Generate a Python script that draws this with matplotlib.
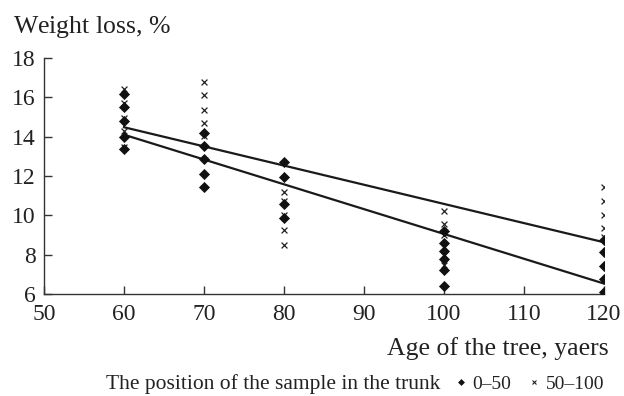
import matplotlib
matplotlib.use("Agg")
import matplotlib.pyplot as plt
from matplotlib.lines import Line2D

plt.rcParams['font.family'] = ['Liberation Serif', 'DejaVu Serif']
plt.rcParams['mathtext.fontset'] = 'custom'
plt.rcParams['mathtext.rm'] = 'Liberation Serif'
plt.rcParams['mathtext.it'] = 'Liberation Serif:italic'

# Data: position in trunk 0-50 (diamonds)
age_d = [60]*5 + [70]*5 + [80]*4 + [100]*6 + [120]*5
loss_d = [16.15, 15.5, 14.8, 14.0, 13.35,
          14.2, 13.55, 12.85, 12.1, 11.45,
          12.72, 11.96, 10.6, 9.85,
          9.2, 8.6, 8.2, 7.8, 7.2, 6.4,
          8.75, 8.15, 7.42, 6.78, 6.1]
# position 50-100 (crosses)
age_x = [60]*5 + [70]*5 + [80]*5 + [100]*5 + [120]*5
loss_x = [16.4, 15.7, 14.95, 14.3, 13.5,
          16.78, 16.1, 15.38, 14.7, 14.05,
          11.2, 10.75, 10.0, 9.23, 8.5,
          10.2, 9.55, 9.0, 8.0, 7.5,
          11.45, 10.72, 10.04, 9.35, 8.9]
# Trend lines (endpoints)
line_age = [60, 120]
trend_x = [14.48, 8.63]
trend_d = [14.1, 6.53]

xticks = [50, 60, 70, 80, 90, 100, 110, 120]
yticks = [6, 8, 10, 12, 14, 16, 18]

txt = '#222222'
fig = plt.figure(figsize=(6.24, 3.96), dpi=100)
ax = fig.add_axes([44/624, 1-294/396, 560/624, 236/396])

ax.plot(line_age, trend_x, color='#1a1a1a', lw=1.6, zorder=2)
ax.plot(line_age, trend_d, color='#1a1a1a', lw=1.6, zorder=2)
ax.scatter(age_x, loss_x, marker='x', s=18, color='#222222', linewidths=0.9, zorder=3)
ax.scatter(age_d, loss_d, marker='D', s=32, color='#111111', linewidths=0, zorder=4)

ax.set_xlim(50, 120)
ax.set_ylim(6, 18)
ax.set_xticks(xticks)
ax.set_yticks(yticks)
for s in ['top', 'right']:
    ax.spines[s].set_visible(False)
for s in ['left', 'bottom']:
    ax.spines[s].set_color('#333333')
    ax.spines[s].set_linewidth(1.0)
ax.tick_params(direction='in', length=6, width=1.0, color='#333333',
               labelsize=17, labelcolor=txt)
ax.tick_params(axis='x', pad=7)
ax.tick_params(axis='y', pad=6)
for lab in ax.get_xticklabels() + ax.get_yticklabels():
    lab.set_clip_on(False)

fig.text(13/624, 1-27/396, r'Weight loss, $\mathit{\%}$', fontsize=18.5, color=txt,
         ha='left', va='center')
fig.text(609/624, 1-349/396, 'Age of the tree, yaers', fontsize=18.5, color=txt,
         ha='right', va='center')
fig.text(106/624, 1-384/396, 'The position of the sample in the trunk', fontsize=15.5,
         color=txt, ha='left', va='center')
handles = [Line2D([], [], marker='D', ls='none', color='#111111', ms=3.5, mew=0),
           Line2D([], [], marker='x', ls='none', color='#222222', ms=3.2, mew=0.8)]
fig.legend(handles, ['0\u201350', '50\u2013100'], loc='center left',
           bbox_to_anchor=(456/624, 1-384/396), ncol=2, frameon=False,
           fontsize=14, handlelength=0.5, handletextpad=0.35, columnspacing=0.9,
           borderpad=0, borderaxespad=0, labelcolor=txt)

fig.savefig('out.png', dpi=100)
